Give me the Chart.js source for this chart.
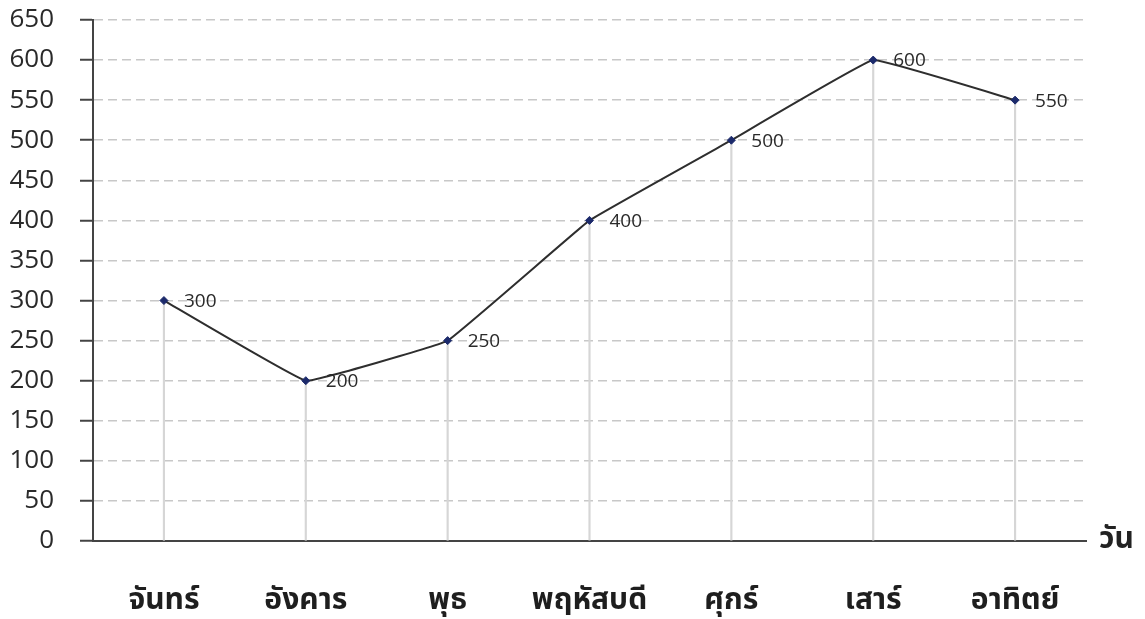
<!DOCTYPE html>
<html>
<head>
<meta charset="utf-8">
<script src="https://cdn.jsdelivr.net/npm/chart.js@4/dist/chart.umd.min.js"></script>
<style>
  html, body { margin: 0; padding: 0; background: #fff; }
  #wrap { width: 1145px; height: 619px; }
</style>
</head>
<body>
<div id="wrap"><canvas id="chart"></canvas></div>
<script>
// data
const days = ['จันทร์', 'อังคาร', 'พุธ', 'พฤหัสบดี', 'ศุกร์', 'เสาร์', 'อาทิตย์'];
const values = [300, 200, 250, 400, 500, 600, 550];
const axisTitle = 'วัน';
const yMin = 0;
const yMax = 650;
const yStep = 50;

const thaiFont = "'Noto Sans Thai', 'Noto Sans', 'DejaVu Sans', sans-serif";
const numFont = "'Open Sans', 'Noto Sans', sans-serif";

// value labels next to each point
const pointLabels = {
    id: 'pointLabels',
    afterDatasetsDraw(chart) {
        const ctx = chart.ctx;
        const meta = chart.getDatasetMeta(0);
        ctx.save();
        ctx.font = '19px ' + numFont;
        ctx.fillStyle = '#2a2a2a';
        ctx.textAlign = 'left';
        ctx.textBaseline = 'middle';
        meta.data.forEach((pt, i) => {
            ctx.fillText(String(values[i]), pt.x + 20, pt.y + 1);
        });
        ctx.restore();
    }
};

// "วัน" at the right end of the x axis
const axisName = {
    id: 'axisName',
    afterDraw(chart) {
        const ctx = chart.ctx;
        const x = chart.scales.x;
        const y = chart.scales.y;
        ctx.save();
        ctx.font = 'bold 30px ' + thaiFont;
        ctx.fillStyle = '#222';
        ctx.textAlign = 'left';
        ctx.textBaseline = 'middle';
        ctx.fillText(axisTitle, x.right + 13, y.bottom + 1);
        ctx.restore();
    }
};

const ctx = document.getElementById('chart').getContext('2d');
const chart = new Chart(ctx, {
    data: {
        labels: days,
        datasets: [{
            type: 'line',
            data: values,
            order: 0,
            borderColor: '#2e2e2e',
            borderWidth: 2,
            tension: 0.06,
            fill: false,
            pointStyle: 'rectRot',
            pointRadius: 4,
            pointBackgroundColor: '#1c2a6b',
            pointBorderColor: '#1c2a6b',
            pointBorderWidth: 1
        }, {
            // thin bars act as the drop lines from each point
            type: 'bar',
            data: values,
            order: 1,
            backgroundColor: '#d6d6d6',
            barThickness: 1.5,
            grouped: false
        }]
    },
    options: {
        responsive: true,
        maintainAspectRatio: false,
        animation: false,
        layout: {
            padding: { left: 0, right: 59, top: 20, bottom: 0 }
        },
        plugins: {
            legend: { display: false },
            tooltip: { enabled: false }
        },
        scales: {
            x: {
                offset: true,
                grid: { display: false, drawTicks: false },
                border: { display: true, color: '#444', width: 2 },
                ticks: {
                    padding: 44,
                    color: '#1e1e1e',
                    font: { family: thaiFont, size: 30, weight: 'bold' }
                },
                afterFit(scale) { scale.height = 78; }
            },
            y: {
                min: yMin,
                max: yMax,
                grid: {
                    color: '#c8c8c8',
                    lineWidth: 1.5,
                    tickColor: '#444',
                    tickWidth: 2,
                    tickLength: 13,
                    tickBorderDash: []
                },
                border: { display: true, color: '#444', width: 2, dash: [9, 5] },
                ticks: {
                    stepSize: yStep,
                    padding: 26,
                    color: '#2a2a2a',
                    font: { family: numFont, size: 26 }
                },
                afterFit(scale) {
                    scale.width = 93;
                    scale.paddingTop = 0;
                    scale.paddingBottom = 0;
                }
            }
        }
    },
    plugins: [pointLabels, axisName]
});
</script>
</body>
</html>
